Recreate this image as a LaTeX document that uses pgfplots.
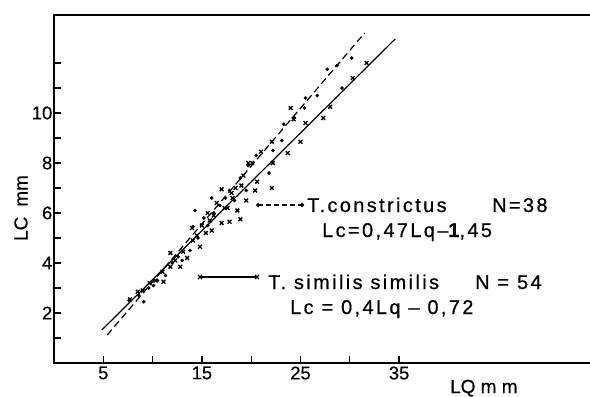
\documentclass[border=0pt]{standalone}
\usepackage{pgfplots}
\pgfplotsset{compat=1.18}
\usepackage{fontspec}
\setmainfont{Liberation Sans}
\newfontfamily\lsp[LetterSpace=12, FakeBold=0.6]{Liberation Sans}
\newfontfamily\lab[FakeBold=0.4]{Liberation Sans}
\begin{document}
\begin{tikzpicture}[x=1bp,y=1bp]
\useasboundingbox (0,0) rectangle (590,396);
\begin{axis}[
  at={(54bp,33bp)}, anchor=south west,
  scale only axis, width=536bp, height=348bp,
  xmin=0, xmax=54.36, ymin=0, ymax=13.92,
  axis line style={draw=none},
  tick pos=left, tick align=inside,
  major tick length=7bp,
  every tick/.style={black, line width=1.3bp},
  xtick={5,10,...,35}, xticklabels={5,,15,,25,,35},
  ytick={1,2,...,12}, yticklabels={,2,,4,,6,,8,,10,,},
  ticklabel style={font=\lab\fontsize{18.5}{18.5}\selectfont},
  yticklabel style={inner xsep=1.5bp},
  /pgf/number format/assume math mode=true,
  clip=false,
]
\draw[line width=2.6bp, line cap=rect] (rel axis cs:1,1) -- (rel axis cs:0,1) -- (rel axis cs:0,0) -- (rel axis cs:1,0);
% regression lines
\addplot[black, line width=1.2bp, no marks] coordinates {(4.85,1.32) (34.6,12.96)};
\addplot[black, line width=1.2bp, dash pattern=on 7bp off 4bp, no marks] coordinates {(5.4,1.12) (31.5,13.2)};
% T. constrictus (dots)
\addplot[only marks, mark=*, mark size=1.6bp, black] coordinates {
(7.6,2.5) (9.1,2.45) (9.6,3.0) (10.1,3.1) (10.5,3.3) (11.3,3.5) (12.6,4.25) (13.0,4.1)
(13.8,4.5) (14.3,6.1) (14.1,5.45) (14.6,5.0) (15.2,5.8) (15.6,5.5) (16.2,6.0) (16.8,6.3)
(17.4,6.6) (17.8,6.9) (18.3,6.5) (18.9,7.4) (19.7,7.9) (21.8,7.6) (22.2,8.5) (23.1,8.9)
(23.3,9.55) (24.4,9.8) (25.4,10.2) (25.5,10.6) (26.7,10.7) (27.7,11.75) (28.7,11.9) (29.2,11.0)
(30.2,12.2) (16.0,6.6) (20.5,8.3) (12.0,4.0) (8.6,2.7) (19.5,6.9)
};
% T. similis similis (crosses)
\addplot[only marks, mark=x, mark size=2.7bp, black, mark options={line width=1.3bp}] coordinates {
(7.7,2.55) (8.5,2.85) (9.0,2.9) (9.7,3.2) (11.1,3.25) (11.0,3.65) (11.8,3.85) (11.8,4.4)
(12.8,3.85) (13.1,4.45) (13.5,4.2) (14.1,4.9) (14.5,5.1) (14.8,4.65) (15.0,5.5) (15.4,5.2)
(16.0,5.3) (15.6,6.0) (16.2,5.9) (17.0,5.6) (17.0,6.95) (17.3,6.2) (17.8,5.65) (18.1,6.6)
(18.6,6.1) (18.9,5.75) (18.4,7.0) (19.2,7.5) (19.7,8.0) (20.1,8.0) (19.5,6.5) (18.0,6.8)
(20.4,6.9) (20.6,7.25) (21.0,8.45) (22.1,8.85) (22.1,7.0) (22.2,8.0) (23.7,8.4) (24.0,10.2)
(24.3,9.75) (25.0,8.85) (25.5,9.6) (27.3,9.8) (28.0,10.25) (30.3,11.4) (31.7,12.0) (16.5,6.4)
(15.8,5.7) (12.3,4.1) (10.3,3.3) (17.6,6.2) (14.0,5.4) (19.0,7.1)
};
% legend samples
\addplot[black, line width=1.2bp, dash pattern=on 5bp off 3bp, mark=*, mark size=1.5bp, mark options={solid}] coordinates {(20.7,6.32) (25.15,6.32)};
\addplot[black, line width=1.2bp, mark=x, mark size=2.7bp, mark options={line width=1.3bp}] coordinates {(14.81,3.44) (20.59,3.44)};
\end{axis}
% texts (absolute, 1bp = 1px; y = 396 - image y)
\begin{scope}[every node/.style={inner sep=0pt, font=\lsp\fontsize{20}{20}\selectfont}]
\node[anchor=base west] at (307,184) {T.constrictus};
\node[anchor=base west] at (492,184) {N=38};
\node[anchor=base west] at (322,159) {Lc=0,47Lq–{\bfseries 1},45};
\node[anchor=base west] at (268,107) {T. similis similis};
\node[anchor=base west] at (475,107) {N = 54};
\node[anchor=base west] at (290,82) {Lc = 0,4Lq – 0,72};
\end{scope}
\node[rotate=90, inner sep=0pt, font=\lab\fontsize{19}{19}\selectfont] at (21,188) {LC\hspace{10bp}mm};
\node[anchor=base west, inner sep=0pt, font=\lab\fontsize{19}{19}\selectfont] at (450,3) {LQ m m};
\end{tikzpicture}
\end{document}
